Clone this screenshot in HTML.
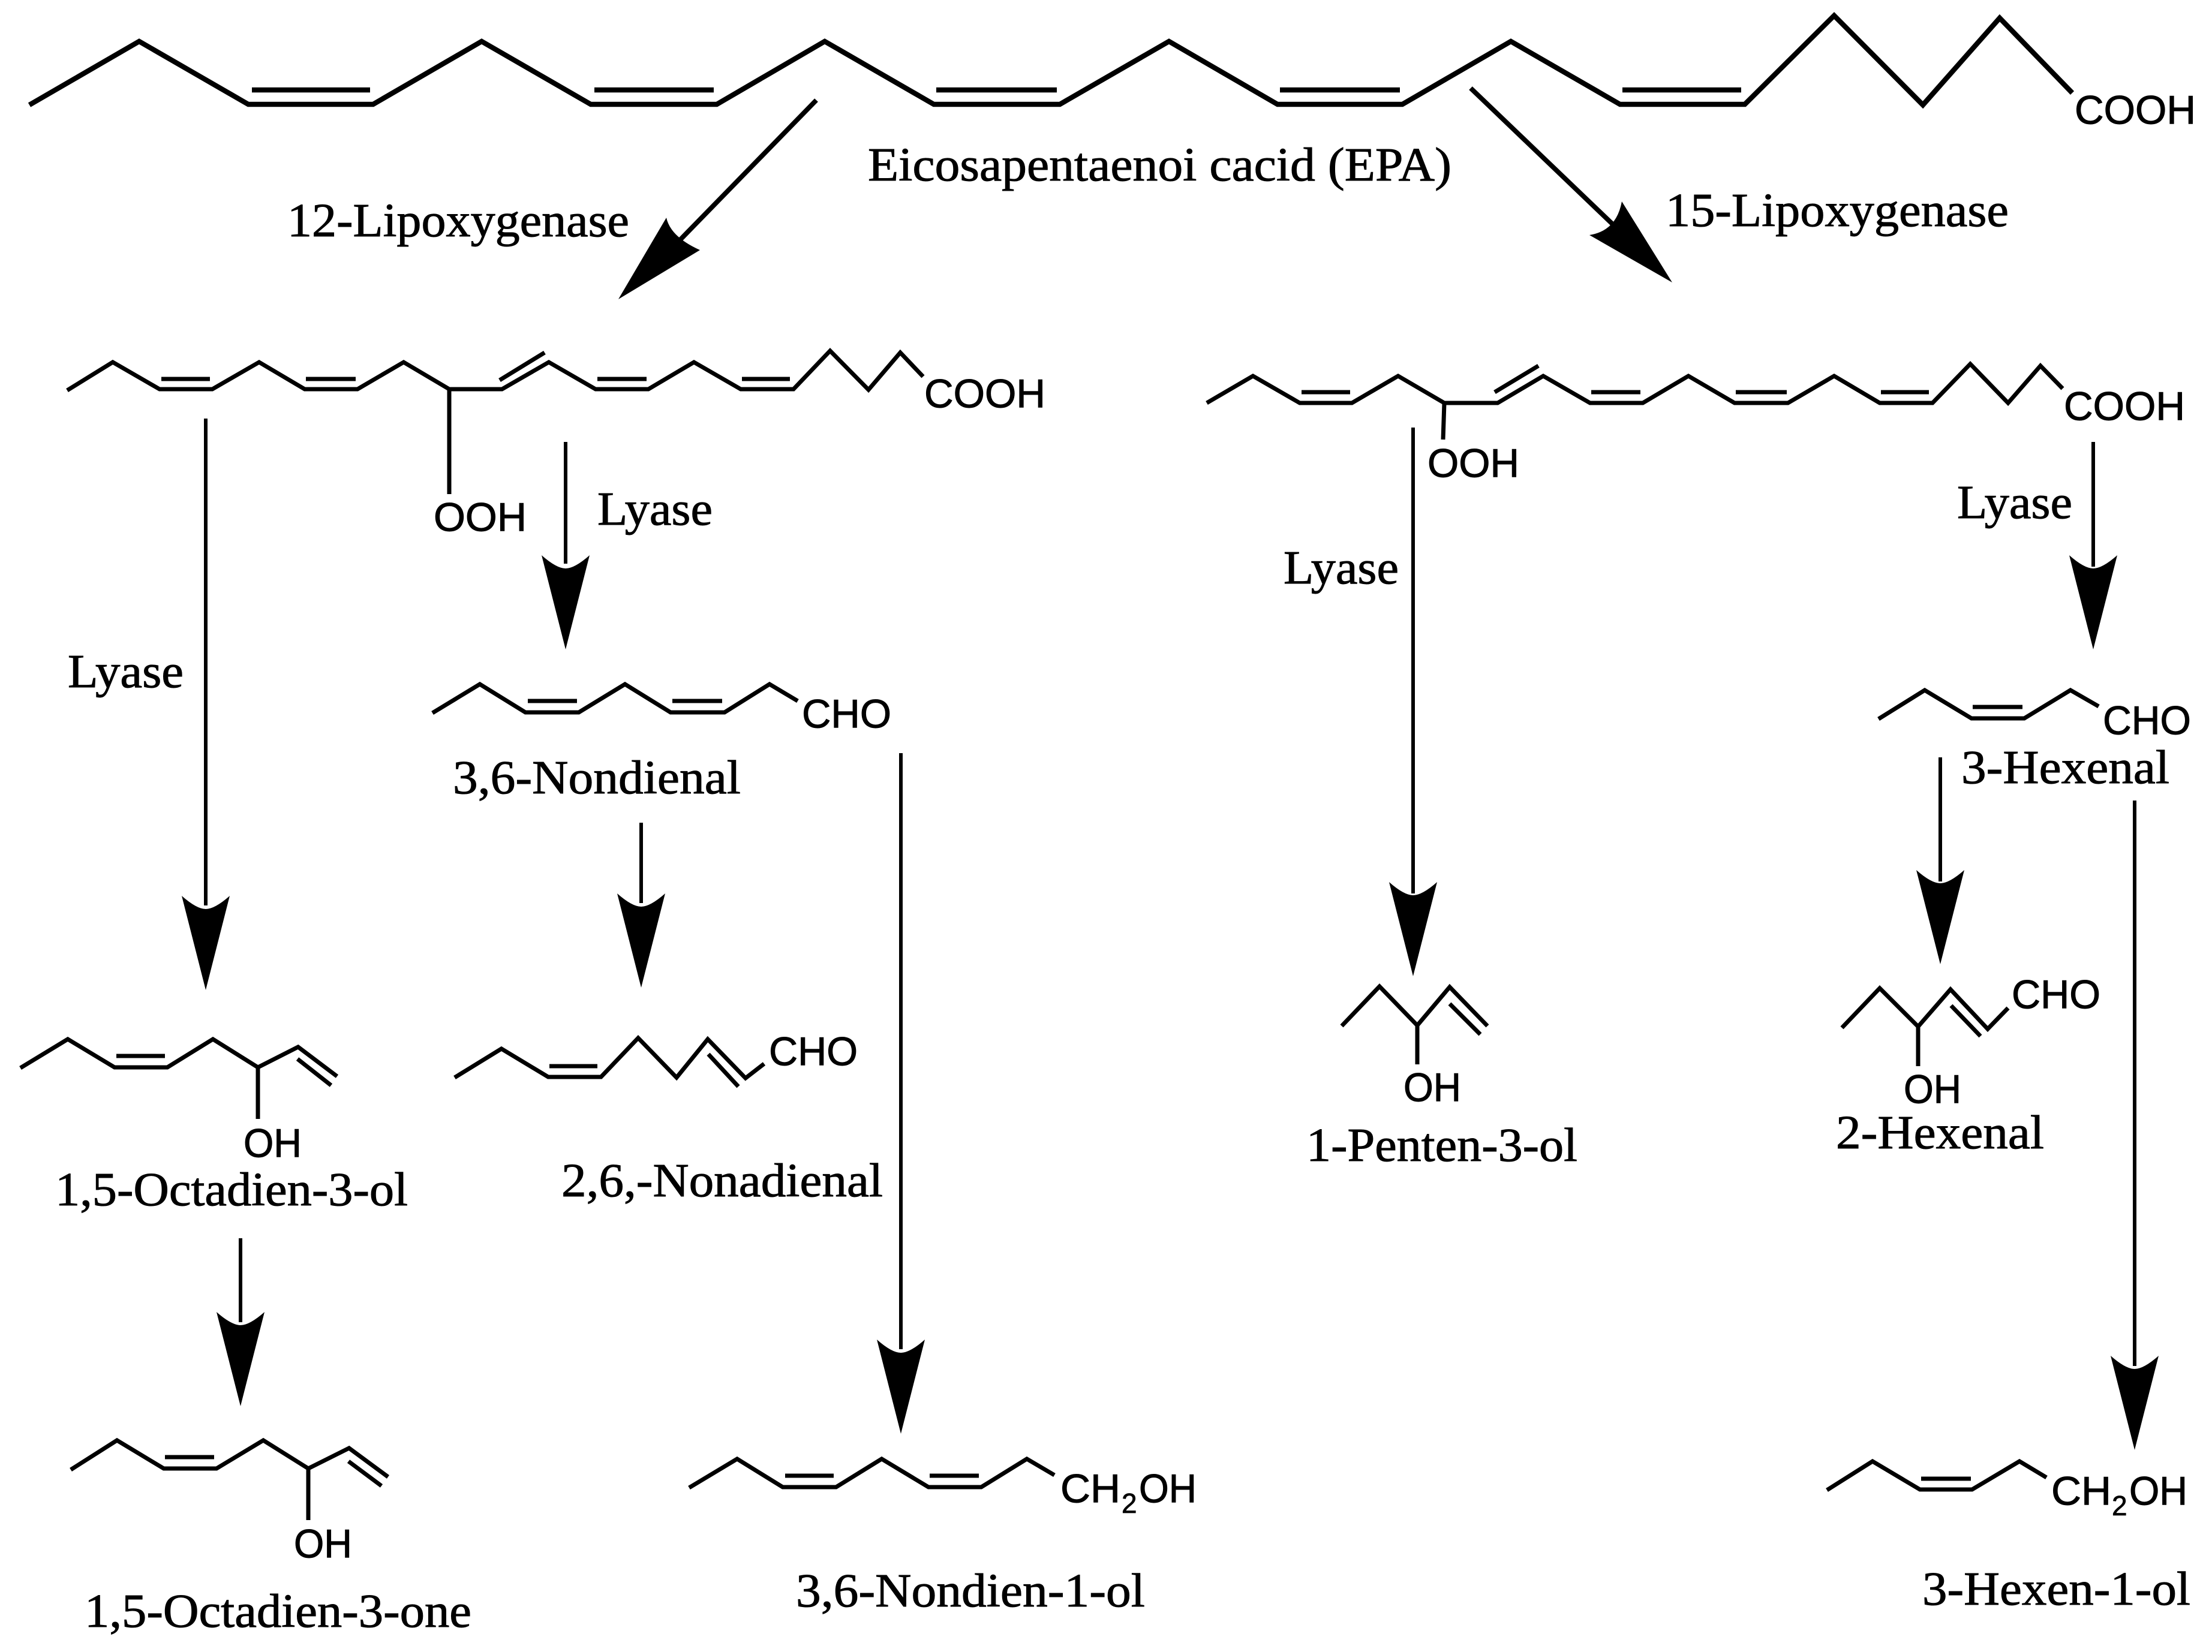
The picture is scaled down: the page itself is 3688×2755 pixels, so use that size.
<!DOCTYPE html>
<html lang="en"><head><meta charset="utf-8"><title>EPA lipoxygenase pathway</title>
<style>
html,body{margin:0;padding:0;background:#fff}
svg{display:block}
.c{fill:none;stroke:#000;stroke-width:7;stroke-linejoin:miter}
.t{fill:none;stroke:#000;stroke-width:8.5;stroke-linejoin:miter}
.a{fill:none;stroke:#000;stroke-width:6}
.s{font-family:"Liberation Serif",serif;font-size:79px;fill:#000;stroke:#000;stroke-width:1}
.h{font-family:"Liberation Sans",sans-serif;font-size:67px;fill:#000;stroke:#000;stroke-width:1;transform:translateY(1.5px)}
.b{font-family:"Liberation Sans",sans-serif;font-size:46px;fill:#000;stroke:#000;stroke-width:.8}
</style></head><body>
<svg xmlns="http://www.w3.org/2000/svg" width="3688" height="2755" viewBox="0 0 3688 2755">
<rect width="3688" height="2755" fill="#fff"/>
<defs><path id="h" d="M-40 0Q-15 22 0 22Q15 22 40 0L0 157Z"/></defs>

<!-- EPA -->
<polyline class="t" points="49,175 232,69 414,174 622,174 803,69 985,174 1195,174 1375,69 1557,174 1767,174 1949,69 2130,174 2338,174 2519,69 2701,174 2909,174 3058,26 3206,175 3334,30 3455,155"/>
<path class="t" d="M420 150H617M991 150H1190M1561 150H1762M2134 150H2334M2705 150H2903"/>
<text class="h" x="3459" y="205" textLength="202" lengthAdjust="spacingAndGlyphs">COOH</text>
<text class="s" x="1447" y="301" textLength="973" lengthAdjust="spacingAndGlyphs">Eicosapentaenoi cacid (EPA)</text>

<!-- Diagonal arrows -->
<line class="a" x1="1361" y1="167" x2="1129" y2="405" style="stroke-width:8"/>
<path d="M1031 499L1111 363Q1118 395 1167 417Z"/>
<text class="s" x="479" y="394" textLength="570" lengthAdjust="spacingAndGlyphs">12-Lipoxygenase</text>
<line class="a" x1="2452" y1="147" x2="2693" y2="378" style="stroke-width:8"/>
<path d="M2788 471L2704 336Q2695 385 2650 392Z"/>
<text class="s" x="2777" y="377" textLength="572" lengthAdjust="spacingAndGlyphs">15-Lipoxygenase</text>

<!-- 12-HPEPE -->
<polyline class="c" points="112,651 188,604 266,649 354,649 432,604 508,649 596,649 673,604 749,649 837,649 915,604 993,649 1081,649 1157,604 1235,649 1323,649 1384,585 1448,650 1501,588 1539,628"/>
<path class="c" d="M269 632H350M510 632H593M996 632H1078M1237 632H1317M833 634L908 588M749 649V824"/>
<text class="h" x="1541" y="678" textLength="202" lengthAdjust="spacingAndGlyphs">COOH</text>
<text class="h" x="723" y="884" textLength="155" lengthAdjust="spacingAndGlyphs">OOH</text>
<text class="s" x="996" y="875" textLength="192" lengthAdjust="spacingAndGlyphs">Lyase</text>
<text class="s" x="113" y="1146" textLength="193" lengthAdjust="spacingAndGlyphs">Lyase</text>

<!-- 15-HPEPE -->
<polyline class="c" points="2012,672 2089,627 2167,672 2254,672 2331,627 2408,672 2497,672 2573,627 2651,672 2739,672 2815,627 2892,672 2981,672 3058,627 3134,672 3222,672 3285,607 3348,672 3402,610 3439,648"/>
<path class="c" d="M2170 654H2251M2653 654H2735M2894 654H2979M3136 654H3216M2492 654L2565 610M2408 672L2406 733"/>
<text class="h" x="3441" y="699" textLength="202" lengthAdjust="spacingAndGlyphs">COOH</text>
<text class="h" x="2380" y="794" textLength="153" lengthAdjust="spacingAndGlyphs">OOH</text>
<text class="s" x="2140" y="973" textLength="192" lengthAdjust="spacingAndGlyphs">Lyase</text>
<text class="s" x="3263" y="864" textLength="192" lengthAdjust="spacingAndGlyphs">Lyase</text>

<!-- Vertical arrows -->
<path class="a" d="M343 698V1510M943 737V940M1069 1372V1506M1502 1256V2250M401 2065V2205M2356 713V1490M3490 737V945M3235 1263V1470M3559 1335V2278"/>
<use href="#h" x="343" y="1494"/>
<use href="#h" x="943" y="926"/>
<use href="#h" x="1069" y="1490"/>
<use href="#h" x="1502" y="2234"/>
<use href="#h" x="401" y="2188"/>
<use href="#h" x="2356" y="1471"/>
<use href="#h" x="3490" y="926"/>
<use href="#h" x="3235" y="1451"/>
<use href="#h" x="3559" y="2261"/>

<!-- 3,6-Nondienal -->
<polyline class="c" points="721,1189 800,1141 876,1188 965,1188 1042,1141 1118,1188 1208,1188 1283,1141 1330,1169"/>
<path class="c" d="M880 1169H962M1121 1169H1204"/>
<text class="h" x="1337" y="1212" textLength="149" lengthAdjust="spacingAndGlyphs">CHO</text>
<text class="s" x="755" y="1323" textLength="480" lengthAdjust="spacingAndGlyphs">3,6-Nondienal</text>

<!-- 1,5-Octadien-3-ol -->
<polyline class="c" points="34,1781 113,1733 191,1780 279,1780 355,1733 430,1780 497,1746 562,1795"/>
<path class="c" d="M194 1761H275M496 1766L552 1810M430 1780V1866"/>
<text class="h" x="406" y="1928" textLength="97" lengthAdjust="spacingAndGlyphs">OH</text>
<text class="s" x="92" y="2010" textLength="588" lengthAdjust="spacingAndGlyphs">1,5-Octadien-3-ol</text>

<!-- 2,6-Nonadienal -->
<polyline class="c" points="758,1797 836,1749 914,1796 1002,1796 1064,1731 1128,1797 1180,1733 1243,1798 1274,1774"/>
<path class="c" d="M916 1778H996M1181 1758L1231 1812"/>
<text class="h" x="1282" y="1775" textLength="148" lengthAdjust="spacingAndGlyphs">CHO</text>
<text class="s" x="936" y="1995" textLength="536" lengthAdjust="spacingAndGlyphs">2,6,-Nonadienal</text>

<!-- 1-Penten-3-ol -->
<polyline class="c" points="2237,1711 2300,1645 2363,1710 2417,1646 2480,1711"/>
<path class="c" d="M2417 1674L2468 1725M2363 1710V1775"/>
<text class="h" x="2340" y="1835" textLength="96" lengthAdjust="spacingAndGlyphs">OH</text>
<text class="s" x="2178" y="1936" textLength="452" lengthAdjust="spacingAndGlyphs">1-Penten-3-ol</text>

<!-- 3-Hexenal -->
<polyline class="c" points="3132,1199 3209,1151 3287,1198 3375,1198 3452,1151 3499,1178"/>
<path class="c" d="M3289 1179H3372"/>
<text class="h" x="3506" y="1223" textLength="147" lengthAdjust="spacingAndGlyphs">CHO</text>
<text class="s" x="3270" y="1306" textLength="347" lengthAdjust="spacingAndGlyphs">3-Hexenal</text>

<!-- 2-Hexenal -->
<polyline class="c" points="3071,1714 3134,1648 3198,1712 3252,1650 3314,1716 3348,1681"/>
<path class="c" d="M3253 1677L3302 1728M3198 1712V1778"/>
<text class="h" x="3354" y="1680" textLength="148" lengthAdjust="spacingAndGlyphs">CHO</text>
<text class="h" x="3174" y="1838" textLength="96" lengthAdjust="spacingAndGlyphs">OH</text>
<text class="s" x="3061" y="1915" textLength="347" lengthAdjust="spacingAndGlyphs">2-Hexenal</text>

<!-- 1,5-Octadien-3-one -->
<polyline class="c" points="118,2451 195,2402 273,2449 361,2449 439,2402 514,2449 582,2415 647,2463"/>
<path class="c" d="M275 2430H357M581 2437L636 2478M514 2449V2535"/>
<text class="h" x="490" y="2596" textLength="97" lengthAdjust="spacingAndGlyphs">OH</text>
<text class="s" x="141" y="2713" textLength="645" lengthAdjust="spacingAndGlyphs">1,5-Octadien-3-one</text>

<!-- 3,6-Nondien-1-ol -->
<polyline class="c" points="1149,2481 1229,2433 1305,2480 1394,2480 1470,2433 1548,2480 1636,2480 1712,2433 1758,2460"/>
<path class="c" d="M1309 2461H1390M1550 2461H1632"/>
<text class="h" x="1768" y="2504" textLength="100" lengthAdjust="spacingAndGlyphs">CH</text>
<text class="b" x="1870" y="2523">2</text>
<text class="h" x="1899" y="2504" textLength="96" lengthAdjust="spacingAndGlyphs">OH</text>
<text class="s" x="1327" y="2679" textLength="582" lengthAdjust="spacingAndGlyphs">3,6-Nondien-1-ol</text>

<!-- 3-Hexen-1-ol -->
<polyline class="c" points="3046,2485 3122,2437 3201,2484 3288,2484 3367,2437 3412,2464"/>
<path class="c" d="M3203 2466H3286"/>
<text class="h" x="3420" y="2508" textLength="100" lengthAdjust="spacingAndGlyphs">CH</text>
<text class="b" x="3521" y="2527">2</text>
<text class="h" x="3550" y="2508" textLength="97" lengthAdjust="spacingAndGlyphs">OH</text>
<text class="s" x="3205" y="2676" textLength="447" lengthAdjust="spacingAndGlyphs">3-Hexen-1-ol</text>
</svg>
</body></html>
